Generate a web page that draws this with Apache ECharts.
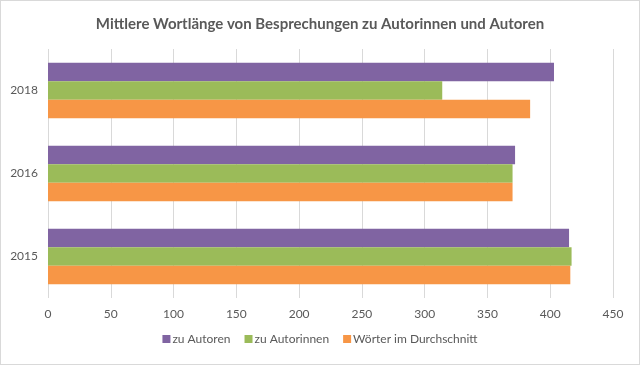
<!DOCTYPE html>
<html><head><meta charset="utf-8">
<script src="https://cdn.jsdelivr.net/npm/echarts@6/dist/echarts.min.js"></script>
<style>html,body{margin:0;padding:0;background:#fff}#c{width:640px;height:365px;box-sizing:border-box;border:1px solid #d9d9d9}</style>
</head><body><div id="c"></div>
<script>
const categories = ['2015', '2016', '2018'];
const zuAutoren = [415, 372, 403];
const zuAutorinnen = [417, 370, 314];
const woerter = [416, 370, 384];
const xTicks = [0, 450, 50];

const chart = echarts.init(document.getElementById('c'));
const font = 'Lato, "Open Sans", sans-serif';
chart.setOption({
  animation: false,
  title: {
    text: 'Mittlere Wortlänge von Besprechungen zu Autorinnen und Autoren',
    left: 'center', top: 11,
    textStyle: {color: '#595959', fontSize: 15, fontWeight: 'bold', fontFamily: font}
  },
  legend: {
    data: ['zu Autoren', 'zu Autorinnen', 'Wörter im Durchschnitt'],
    bottom: 14, left: 'center', icon: 'rect', itemWidth: 8, itemHeight: 8, itemGap: 14,
    textStyle: {color: '#595959', fontSize: 12, fontFamily: font, padding: [0, 0, 0, -3]}
  },
  grid: {left: 47, right: 26, top: 48, bottom: 66, containLabel: false},
  xAxis: {
    type: 'value', min: xTicks[0], max: xTicks[1], interval: xTicks[2],
    axisLine: {show: false}, axisTick: {show: false},
    splitLine: {lineStyle: {color: '#d9d9d9'}},
    axisLabel: {color: '#595959', fontSize: 12, fontFamily: font, margin: 10}
  },
  yAxis: {
    type: 'category', data: categories,
    axisLine: {show: false}, axisTick: {show: false},
    axisLabel: {color: '#595959', fontSize: 12, fontFamily: font, margin: 10}
  },
  series: [
    {name: 'zu Autoren', type: 'bar', data: zuAutoren, itemStyle: {color: '#8064A2'}, barGap: '0%', barCategoryGap: '33%'},
    {name: 'zu Autorinnen', type: 'bar', data: zuAutorinnen, itemStyle: {color: '#9BBB59'}},
    {name: 'Wörter im Durchschnitt', type: 'bar', data: woerter, itemStyle: {color: '#F79646'}}
  ]
});
</script></body></html>
